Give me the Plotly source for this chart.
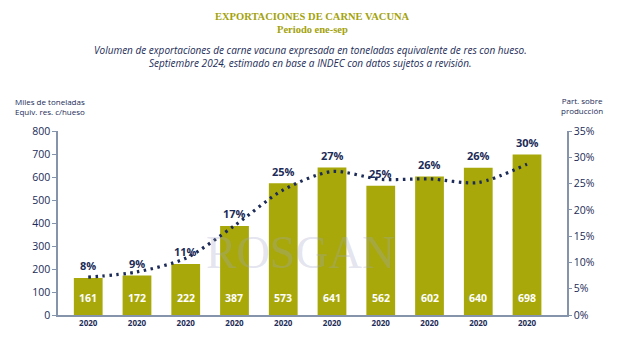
import plotly.graph_objects as go

# ---- data ----
years = ["2020"] * 10
volumes = [161, 172, 222, 387, 573, 641, 562, 602, 640, 698]
share_labels = ["8%", "9%", "11%", "17%", "25%", "27%", "25%", "26%", "26%", "30%"]
share_line = [7.2, 8.2, 10.8, 17.0, 23.8, 27.3, 25.8, 25.9, 25.2, 28.7]

NAVY = "#1c2b57"
OLIVE = "#a8a80a"
AXIS = "#8593ab"
TITLE_C = "#a3a20c"

xs = list(range(len(volumes)))

fig = go.Figure()
fig.add_trace(go.Bar(x=xs, y=volumes, marker_color=OLIVE, width=0.59,
                     marker_line_width=0, hoverinfo="skip", showlegend=False))
fig.add_trace(go.Scatter(x=xs, y=share_line, yaxis="y2", mode="lines",
                         line=dict(color=NAVY, width=3.2, dash="2.5px,4.5px", shape="spline", smoothing=0.8),
                         hoverinfo="skip", showlegend=False))

ann = []
for i, v in enumerate(volumes):
    ann.append(dict(x=i, y=v, xref="x", yref="y", text=share_labels[i], showarrow=False,
                    yanchor="middle", yshift=12,
                    font=dict(family="Open Sans", size=11, color=NAVY, weight="bold")))
    ann.append(dict(x=i, y=0, xref="x", yref="y", text=str(v), showarrow=False,
                    yanchor="middle", yshift=17,
                    font=dict(family="Open Sans", size=10.5, color="white", weight="bold")))

W0, W1 = 58, 567
T, B = 131, 315
def px(x):
    return (x - W0) / (W1 - W0)
def py(y):
    return (B - y) / (B - T)

# watermark
ann.append(dict(x=px(300), y=py(252), xref="paper", yref="paper", text="ROSGAN", showarrow=False,
                yanchor="middle",
                font=dict(family="Liberation Serif", size=46, color="rgba(160,166,200,0.30)")))
# titles
ann.append(dict(x=px(312), y=py(17), xref="paper", yref="paper", text="<b>EXPORTACIONES DE CARNE VACUNA</b>",
                showarrow=False, yanchor="middle",
                font=dict(family="Liberation Serif", size=10.5, color=TITLE_C)))
ann.append(dict(x=px(312), y=py(30), xref="paper", yref="paper", text="<b>Periodo ene-sep</b>",
                showarrow=False, yanchor="middle",
                font=dict(family="Liberation Serif", size=10.5, color=TITLE_C)))
ann.append(dict(x=px(310), y=py(50), xref="paper", yref="paper",
                text="<i>Volumen de exportaciones de carne vacuna expresada en toneladas equivalente de res con hueso.</i>",
                showarrow=False, yanchor="middle",
                font=dict(family="Open Sans", size=10, color=NAVY)))
ann.append(dict(x=px(310), y=py(63), xref="paper", yref="paper",
                text="<i>Septiembre 2024, estimado en base a INDEC con datos sujetos a revisión.</i>",
                showarrow=False, yanchor="middle",
                font=dict(family="Open Sans", size=10, color=NAVY)))
# axis titles
ann.append(dict(x=px(13), y=py(106), xref="paper", yref="paper",
                text="Miles de toneladas<br>Equiv. res. c/hueso", showarrow=False,
                xanchor="left", yanchor="middle", align="left",
                font=dict(family="Open Sans", size=8, color=NAVY)))
ann.append(dict(x=px(582), y=py(105), xref="paper", yref="paper",
                text="Part. sobre<br>producción", showarrow=False,
                xanchor="center", yanchor="middle", align="center",
                font=dict(family="Open Sans", size=8, color=NAVY)))

fig.update_layout(
    width=641, height=352,
    margin=dict(l=W0, r=641 - W1, t=T, b=352 - B),
    paper_bgcolor="white", plot_bgcolor="rgba(0,0,0,0)",
    bargap=0.4,
    xaxis=dict(range=[-0.62, 9.82], tickvals=xs, ticktext=years, showgrid=False, zeroline=False,
               showline=True, linecolor=AXIS, linewidth=1.5, ticks="",
               tickfont=dict(family="Open Sans", size=8, color=NAVY, weight="bold")),
    yaxis=dict(range=[0, 800], dtick=100, showgrid=False, zeroline=False,
               showline=True, linecolor=AXIS, linewidth=1.5, ticks="outside", ticklen=4,
               tickcolor=AXIS, tickwidth=1.2,
               tickfont=dict(family="Open Sans", size=10.5, color=NAVY)),
    yaxis2=dict(range=[0, 35], dtick=5, ticksuffix="%", overlaying="y", side="right",
                showgrid=False, zeroline=False, showline=True, linecolor=AXIS, linewidth=1.5,
                ticks="outside", ticklen=3, tickcolor=AXIS, tickwidth=1.2,
                tickfont=dict(family="Open Sans", size=10.5, color=NAVY)),
    annotations=ann,
)

fig.write_html("out.html")
